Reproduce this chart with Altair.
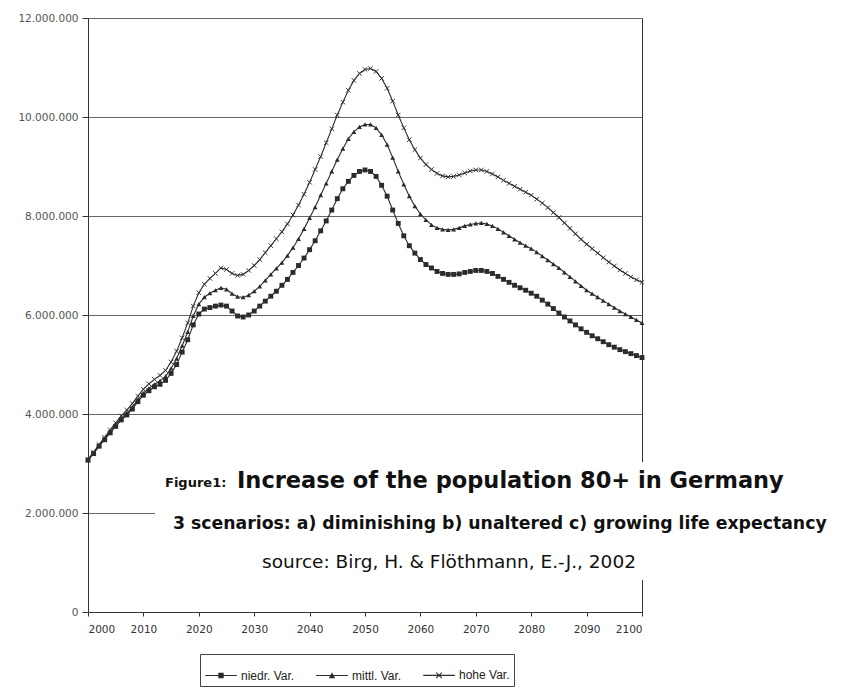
import altair as alt
import pandas as pd

years = list(range(2000, 2101))

low = [3.07, 3.20, 3.35, 3.48, 3.62, 3.75, 3.88, 3.98, 4.10, 4.25,
       4.38, 4.47, 4.55, 4.60, 4.68, 4.82, 5.00, 5.25, 5.50, 5.80,
       6.02, 6.12, 6.15, 6.18, 6.20, 6.18, 6.08, 5.98, 5.96, 6.00,
       6.08, 6.18, 6.28, 6.38, 6.48, 6.60, 6.72, 6.86, 7.00, 7.15,
       7.32, 7.50, 7.70, 7.90, 8.12, 8.35, 8.55, 8.70, 8.82, 8.90,
       8.93, 8.90, 8.80, 8.62, 8.40, 8.12, 7.85, 7.60, 7.40, 7.25,
       7.12, 7.02, 6.95, 6.88, 6.84, 6.82, 6.82, 6.83, 6.86, 6.88,
       6.90, 6.90, 6.88, 6.84, 6.78, 6.72, 6.66, 6.60, 6.55, 6.50,
       6.44, 6.38, 6.30, 6.22, 6.13, 6.04, 5.96, 5.88, 5.80, 5.72,
       5.65, 5.58, 5.52, 5.46, 5.40, 5.35, 5.30, 5.26, 5.22, 5.18,
       5.14]

mid = [3.07, 3.21, 3.36, 3.50, 3.64, 3.78, 3.91, 4.02, 4.14, 4.29,
       4.42, 4.52, 4.60, 4.67, 4.76, 4.92, 5.12, 5.38, 5.66, 5.98,
       6.22, 6.36, 6.44, 6.50, 6.55, 6.52, 6.43, 6.37, 6.36, 6.40,
       6.48, 6.58, 6.70, 6.82, 6.94, 7.06, 7.20, 7.36, 7.54, 7.74,
       7.96, 8.18, 8.42, 8.66, 8.90, 9.14, 9.36, 9.56, 9.70, 9.80,
       9.85, 9.85, 9.78, 9.64, 9.44, 9.18, 8.90, 8.64, 8.40, 8.20,
       8.04, 7.92, 7.82, 7.76, 7.73, 7.72, 7.73, 7.76, 7.80, 7.83,
       7.85, 7.86, 7.84, 7.80, 7.74, 7.67, 7.60, 7.53, 7.46, 7.40,
       7.34, 7.27, 7.19, 7.11, 7.03, 6.95, 6.86, 6.77, 6.68, 6.59,
       6.50, 6.43, 6.36, 6.29, 6.22, 6.15, 6.08, 6.02, 5.96, 5.90,
       5.84]

high = [3.08, 3.23, 3.38, 3.53, 3.68, 3.82, 3.96, 4.08, 4.21, 4.36,
        4.50, 4.61, 4.70, 4.78, 4.88, 5.05, 5.27, 5.54, 5.84, 6.18,
        6.45, 6.62, 6.74, 6.84, 6.95, 6.92, 6.84, 6.80, 6.82, 6.90,
        7.00, 7.12, 7.26, 7.40, 7.54, 7.68, 7.84, 8.02, 8.22, 8.44,
        8.68, 8.94, 9.20, 9.48, 9.76, 10.04, 10.30, 10.54, 10.74, 10.88,
        10.96, 10.98, 10.92, 10.78, 10.58, 10.32, 10.04, 9.78, 9.54, 9.34,
        9.17, 9.04, 8.94, 8.86, 8.81, 8.79, 8.80, 8.83, 8.87, 8.91,
        8.93, 8.93, 8.90, 8.85, 8.79, 8.72, 8.66, 8.60, 8.54, 8.48,
        8.42, 8.34, 8.26, 8.17, 8.07, 7.97, 7.86, 7.75, 7.64, 7.53,
        7.43, 7.34, 7.25, 7.16, 7.07, 6.99, 6.91, 6.84, 6.77, 6.71,
        6.66]

series_names = ["niedr. Var.", "mittl. Var.", "hohe Var."]
x_ticks = list(range(2000, 2101, 10))
y_ticks = [0, 2000000, 4000000, 6000000, 8000000, 10000000, 12000000]

title_prefix = "Figure1:"
title_main = "Increase of the population 80+ in Germany"
subtitle = "3 scenarios: a) diminishing b) unaltered c)  growing life expectancy"
source = "source: Birg, H. & Flöthmann, E.-J., 2002"

rows = []
for name, vals in zip(series_names, [low, mid, high]):
    for yr, v in zip(years, vals):
        rows.append({"year": yr, "value": v * 1e6, "series": name, "series_l": name})
df = pd.DataFrame(rows)

INK = "#2b2b2b"
FONT = "DejaVu Sans"
X_PATH = "M-1,-1L1,1M-1,1L1,-1"

xenc = alt.X("year:Q", scale=alt.Scale(domain=[2000, 2100], nice=False),
             axis=alt.Axis(values=x_ticks, format="d", title=None, grid=False,
                           domainColor="#333", tickColor="#333", tickSize=4,
                           labelFont=FONT, labelFontSize=10.5,
                           labelColor="#333", labelPadding=8))
yenc = alt.Y("value:Q", scale=alt.Scale(domain=[0, 12000000], nice=False),
             axis=alt.Axis(values=y_ticks, title=None, grid=True, gridColor="#666",
                           domainColor="#333", tickColor="#333", tickSize=6,
                           labelFont=FONT, labelFontSize=10.5,
                           labelColor="#555", labelPadding=4,
                           labelExpr="replace(replace(replace(format(datum.value, ','), ',', '.'), ',', '.'), ',', '.')"))

base = alt.Chart(df)

lines = base.mark_line(strokeWidth=1.1, color=INK).encode(x=xenc, y=yenc, detail="series:N")

pts_low = base.transform_filter(alt.datum.series == series_names[0]).mark_point(
    shape="square", filled=True, size=24, color=INK, opacity=1).encode(x=xenc, y=yenc)
pts_mid = base.transform_filter(alt.datum.series == series_names[1]).mark_point(
    shape="triangle-up", filled=True, size=24, color=INK, opacity=1).encode(x=xenc, y=yenc)
pts_high = base.transform_filter(alt.datum.series == series_names[2]).mark_point(
    shape=X_PATH, filled=False, size=20, strokeWidth=1, color="#333", opacity=1).encode(x=xenc, y=yenc)

# legend symbols drawn as filled outlines: a thin bar (the line) plus the marker
BAR = "M-1,-0.035H1V0.035H-1Z"
legend_paths = [
    BAR + "M-0.17,-0.17H0.17V0.17H-0.17Z",
    BAR + "M-0.2,0.17L0,-0.2L0.2,0.17Z",
    BAR + "M-0.2,-0.15L-0.15,-0.2L0.2,0.15L0.15,0.2Z"
          "M0.15,-0.2L0.2,-0.15L-0.15,0.2L-0.2,0.15Z",
]
legend_layer = base.mark_point(opacity=0, filled=True, color=INK).encode(
    x=xenc, y=yenc,
    shape=alt.Shape("series_l:N",
                    scale=alt.Scale(domain=series_names, range=legend_paths),
                    legend=alt.Legend(orient="none", legendX=112, legendY=636,
                                      direction="horizontal", title=None,
                                      symbolOpacity=1, symbolFillColor=INK,
                                      symbolSize=1000, labelFont="Liberation Sans",
                                      labelFontSize=12, labelColor="#222",
                                      strokeColor="#444", padding=4,
                                      columnPadding=18, labelOffset=3)))

box_df = pd.DataFrame({"t": [0]})
text_box = alt.Chart(box_df).mark_rect(color="white").encode(
    x=alt.value(67), x2=alt.value(760), y=alt.value(444), y2=alt.value(562))

t1 = alt.Chart(box_df).mark_text(text=title_prefix, align="left", baseline="middle",
                                 font=FONT, fontWeight="bold", fontSize=13,
                                 color="#111").encode(x=alt.value(77), y=alt.value(465))
t2 = alt.Chart(box_df).mark_text(text=title_main, align="left", baseline="middle",
                                 font=FONT, fontWeight="bold", fontSize=22.5,
                                 color="#111").encode(x=alt.value(149), y=alt.value(463))
t3 = alt.Chart(box_df).mark_text(text=subtitle, align="left", baseline="middle",
                                 font=FONT, fontWeight="bold", fontSize=17.3,
                                 color="#111").encode(x=alt.value(85), y=alt.value(506))
t4 = alt.Chart(box_df).mark_text(text=source, align="left", baseline="middle",
                                 font=FONT, fontSize=18.5,
                                 color="#111").encode(x=alt.value(174), y=alt.value(544))

chart = alt.layer(lines, pts_low, pts_mid, pts_high, legend_layer,
                  text_box, t1, t2, t3, t4).resolve_scale(
    shape="independent"
).properties(
    width=554, height=594,
    padding={"left": 80, "top": 10, "right": 208, "bottom": 80},
    autosize=alt.AutoSizeParams(type="none"),
    background="white",
).configure_view(stroke="#333", strokeWidth=1)

chart.save("out.html", embed_options={"renderer": "svg", "actions": False})
